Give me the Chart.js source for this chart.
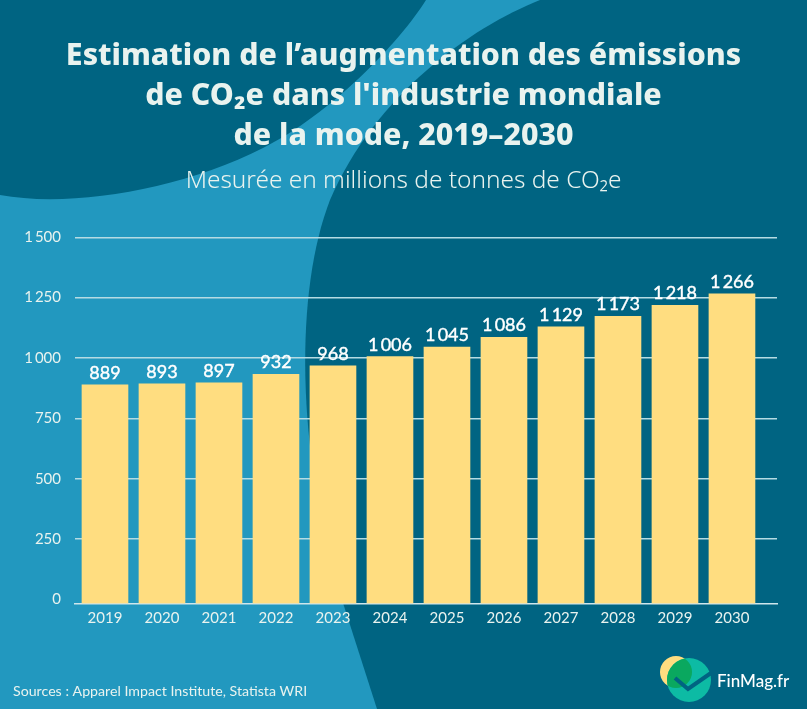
<!DOCTYPE html>
<html>
<head>
<meta charset="utf-8">
<script src="https://cdn.jsdelivr.net/npm/chart.js@4"></script>
<style>
  html, body { margin: 0; padding: 0; background: #2298bf; }
  #c { display: block; }
</style>
</head>
<body>
<canvas id="c" width="807" height="709"></canvas>
<script>
const years = [2019, 2020, 2021, 2022, 2023, 2024, 2025, 2026, 2027, 2028, 2029, 2030];
const emissions = [889, 893, 897, 932, 968, 1006, 1045, 1086, 1129, 1173, 1218, 1266];
const yTicks = [0, 250, 500, 750, 1000, 1250, 1500];
const titleLines = ["Estimation de l’augmentation des émissions", "de CO₂e dans l'industrie mondiale", "de la mode, 2019–2030"];
const subtitleText = "Mesurée en millions de tonnes de CO₂e";
const sourceText = "Sources : Apparel Impact Institute, Statista WRI";
const logoText = "FinMag.fr";

const LIGHT = "#2298bf";
const DARK = "#006482";
const TEXT = "#e9f3ef";
const YELLOW = "#ffdd80";
// the axis line sits a little under the zero tick in the original
const AXIS_FLOOR = -16.6;
const fmt = v => v >= 1000 ? Math.floor(v / 1000) + "\u2009" + String(v % 1000).padStart(3, "0") : String(v);

// background shapes, source line and logo
const backdrop = {
  id: "backdrop",
  beforeDraw(chart) {
    const c = chart.ctx;
    c.save();
    c.fillStyle = LIGHT;
    c.fillRect(0, 0, 807, 709);
    c.fillStyle = DARK;
    c.beginPath();
    c.moveTo(0, 0);
    c.lineTo(426, 0);
    c.bezierCurveTo(400, 42, 330, 115, 263, 148);
    c.bezierCurveTo(180, 190, 70, 208, 0, 195);
    c.closePath();
    c.fill();
    c.beginPath();
    c.moveTo(540, 0);
    c.bezierCurveTo(470, 28, 375, 95, 330, 200);
    c.bezierCurveTo(295, 290, 295, 450, 343, 603);
    c.lineTo(377, 709);
    c.lineTo(807, 709);
    c.lineTo(807, 0);
    c.closePath();
    c.fill();
    c.restore();
  },
  afterDraw(chart) {
    const c = chart.ctx;
    c.save();
    c.fillStyle = TEXT;
    c.font = "14.2px Lato";
    c.textBaseline = "middle";
    c.fillText(sourceText, 13, 691);
    // logo
    c.fillStyle = YELLOW;
    c.beginPath(); c.arc(676, 672, 16, 0, Math.PI * 2); c.fill();
    c.fillStyle = "#0dbba4";
    c.beginPath(); c.arc(689, 680, 22, 0, Math.PI * 2); c.fill();
    c.save();
    c.beginPath(); c.arc(676, 672, 16, 0, Math.PI * 2); c.clip();
    c.fillStyle = "#0aa85f";
    c.beginPath(); c.arc(689, 680, 22, 0, Math.PI * 2); c.fill();
    c.restore();
    c.strokeStyle = DARK;
    c.lineWidth = 4;
    c.beginPath(); c.moveTo(675, 678); c.lineTo(688, 689); c.lineTo(711, 673); c.stroke();
    c.fillStyle = "#ffffff";
    c.font = "500 17px Lato";
    c.fillText(logoText, 717, 682);
    c.restore();
  }
};

// value labels above the bars
const valueLabels = {
  id: "valueLabels",
  afterDatasetsDraw(chart) {
    const c = chart.ctx;
    c.save();
    c.font = "18px Lato";
    c.fillStyle = "#ffffff";
    c.strokeStyle = "#ffffff";
    c.lineWidth = 0.4;
    c.textAlign = "center";
    c.textBaseline = "alphabetic";
    chart.getDatasetMeta(0).data.forEach((bar, i) => {
      c.fillText(fmt(emissions[i]), bar.x, bar.y - 6);
      c.strokeText(fmt(emissions[i]), bar.x, bar.y - 6);
    });
    c.restore();
  }
};

new Chart(document.getElementById("c"), {
  type: "bar",
  data: {
    datasets: [{
      data: years.map((y, i) => ({ x: y, y: emissions[i] })),
      backgroundColor: YELLOW,
      barThickness: 46,
      base: AXIS_FLOOR
    }]
  },
  plugins: [backdrop, valueLabels],
  options: {
    responsive: false,
    animation: false,
    layout: { padding: { bottom: 75.5 } },
    plugins: {
      legend: { display: false },
      tooltip: { enabled: false },
      title: {
        display: true,
        text: titleLines,
        color: TEXT,
        font: { family: "Noto Sans", size: 30.3, weight: "800", lineHeight: 1.32 },
        padding: { top: 36, bottom: 10 }
      },
      subtitle: {
        display: true,
        text: subtitleText,
        color: TEXT,
        font: { family: "Noto Sans", size: 24.4, weight: "300" },
        padding: { bottom: 42 }
      }
    },
    scales: {
      x: {
        type: "linear",
        offset: false,
        min: 2018.474,
        max: 2030.79,
        grid: { display: false, drawTicks: false },
        border: { color: "#cfe6ec", width: 1.5 },
        afterBuildTicks(axis) { axis.ticks = years.map(y => ({ value: y })); },
        ticks: {
          autoSkip: false,
          maxRotation: 0,
          padding: 6,
          color: TEXT,
          font: { family: "Lato", size: 15 },
          callback: v => String(v)
        }
      },
      y: {
        min: AXIS_FLOOR,
        max: 1500,
        afterFit(axis) { axis.width = 75; },
        afterBuildTicks(axis) { axis.ticks = yTicks.map(v => ({ value: v })); },
        grid: {
          color: ctx => ctx.tick && ctx.tick.value === 0 ? "transparent" : "#b5dbe3",
          lineWidth: 1.5,
          drawTicks: false
        },
        border: { display: false },
        ticks: {
          padding: 14,
          color: TEXT,
          font: { family: "Lato", size: 15 },
          callback: v => fmt(v)
        }
      },
      // empty axis, only keeps the plot's right margin without moving the title
      margin: {
        position: "right",
        afterFit(axis) { axis.width = 30; },
        grid: { display: false, drawTicks: false },
        border: { display: false },
        ticks: { display: false }
      }
    }
  }
});
</script>
</body>
</html>
